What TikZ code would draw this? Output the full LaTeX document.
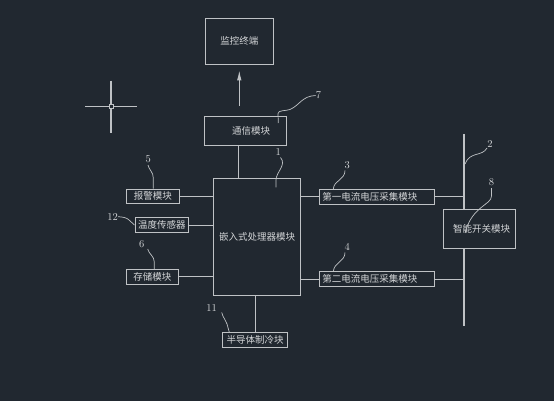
\documentclass[tikz,border=0pt]{standalone}
\usepackage{fontspec}
\newfontfamily\cjk{Noto Sans CJK SC}
\usetikzlibrary{arrows.meta,calc}
\definecolor{bg}{HTML}{212830}
\definecolor{ln}{HTML}{BFC2C5}
\definecolor{tx}{HTML}{D4D6D8}
\begin{document}
\begin{tikzpicture}[x=1pt,y=-1pt,
  box/.style={draw=ln,line width=0.9pt,fill=bg,inner sep=0pt,text=tx,
    font=\cjk\fontsize{9.5}{11}\selectfont,anchor=center},
  lbox/.style={box,text width=109pt,align=left,inner xsep=3pt},
  conn/.style={draw=ln,line width=0.9pt},
  lead/.style={draw=ln,line width=0.7pt},
  num/.style={text=tx,font=\fontsize{10.5}{12}\selectfont,inner sep=0pt,anchor=center}]
\fill[bg] (0,0) rectangle (554,401);
\useasboundingbox (0,0) rectangle (554,401);

% crosshair
\coordinate (cc) at (111,106.7);
\draw[ln,line width=1.2pt] ($(cc)+(-26,0)$) -- ($(cc)+(-2,0)$);
\draw[ln,line width=1.2pt] ($(cc)+(2,0)$) -- ($(cc)+(26,0)$);
\draw[ln,line width=1.2pt] ($(cc)+(0,-26)$) -- ($(cc)+(0,-2)$);
\draw[ln,line width=1.2pt] ($(cc)+(0,2)$) -- ($(cc)+(0,26)$);
\draw[ln,line width=0.9pt] ($(cc)+(-2,-2)$) rectangle ($(cc)+(2,2)$);

% bus
\coordinate (bt) at (464,134);
\coordinate (bb) at (464,326);
\draw[ln,line width=1.8pt] (bt) -- (bb);

% nodes
\node[box,minimum width=67.3pt,minimum height=46pt] (mon) at (239.3,41.3) {监控终端};
\node[box,minimum width=82.4pt,minimum height=29pt] (comm) at (245.5,130.5) {\hspace*{11pt}通信模块};
\node[box,minimum width=87.4pt,minimum height=116.7pt] (main) at (257,236.7) {嵌入式处理器模块};
\node[box,minimum width=53.7pt,minimum height=14.7pt] (alarm) at (152.8,196.3) {报警模块};
\node[box,minimum width=53.7pt,minimum height=15.4pt] (temp) at (161.8,225) {温度传感器};
\node[box,minimum width=52.7pt,minimum height=14.7pt] (store) at (152.3,276.7) {存储模块};
\node[lbox,minimum height=15pt] (c1) at (376.8,196.5) {第一电流电压采集模块};
\node[lbox,minimum height=15pt] (c2) at (376.8,279.2) {第二电流电压采集模块};
\node[box,minimum width=71.7pt,minimum height=39pt] (sw) at (479.2,228.8) {\hspace*{5pt}智能开关模块};
\node[box,minimum width=65pt,minimum height=15pt] (cool) at (255.2,339.8) {半导体制冷块};

% connectors
\coordinate (colx) at (238.7,0);
\draw[conn,-{Latex[length=10pt,width=4.5pt]},shorten <=9.3pt,shorten >=5.7pt]
  (comm.north -| mon.south) -- (mon.south);
\draw[conn] (comm.south -| colx) -- (main.north -| colx);
\draw[conn] (alarm.east) -- (main.west |- alarm.east);
\draw[conn] (temp.east) -- (main.west |- temp.east);
\draw[conn] (store.east) -- (main.west |- store.east);
\draw[conn] (main.east |- c1.west) -- (c1.west);
\draw[conn] (main.east |- c2.west) -- (c2.west);
\draw[conn] (c1.east) -- (bt |- c1.east);
\draw[conn] (c2.east) -- (bt |- c2.east);
\draw[conn] (main.south -| cool.north) -- (cool.north);

% labels
\node[num] (n7) at (318.5,95.5) {7};
\node[num] (n1) at (278.3,152.5) {1};
\node[num] (n5) at (148.3,159.5) {5};
\node[num] (n12) at (112.7,216.7) {12};
\node[num] (n6) at (141.7,244.3) {6};
\node[num] (n3) at (347.3,165) {3};
\node[num] (n4) at (347.3,246.7) {4};
\node[num] (n2) at (490,144) {2};
\node[num] (n8) at (491.5,182.3) {8};
\node[num] (n11) at (211.7,308.3) {11};

% leaders
\draw[lead] (278.3,123) -- (278,113.5) .. controls (278,110) and (286,111) .. (290,109.5)
  .. controls (300,105) and (302,96) .. (n7.west);
\draw[lead] (280.5,157.5) .. controls (287,165) and (276,172) .. (276,180) -- (276,187.3);
\draw[lead] (148,165) .. controls (149,170) and (153.3,172) .. (153.3,178) -- (alarm.north -| 153.3,0);
\draw[lead] (147.7,249) .. controls (148.7,254) and (154.3,256) .. (154.3,262) -- (store.north -| 154.3,0);
\draw[lead] (n12.east) .. controls (124,217) and (127,218) .. (129,220) -- (temp.west);
\draw[lead] (345,170.5) .. controls (345,180) and (334,180) .. (333.3,189);
\draw[lead] (345,252.5) .. controls (345,262) and (334,262) .. (333.3,271.7);
\draw[lead] (487,148) .. controls (482,157) and (470,151) .. (465,164);
\draw[lead] (491.5,188) -- (491.5,196) .. controls (491.5,205) and (472,206) .. (465,233);
\draw[lead] (221.7,312.5) .. controls (223,318) and (226,320) .. (227,324) -- (229.3,332.3);
\end{tikzpicture}
\end{document}
